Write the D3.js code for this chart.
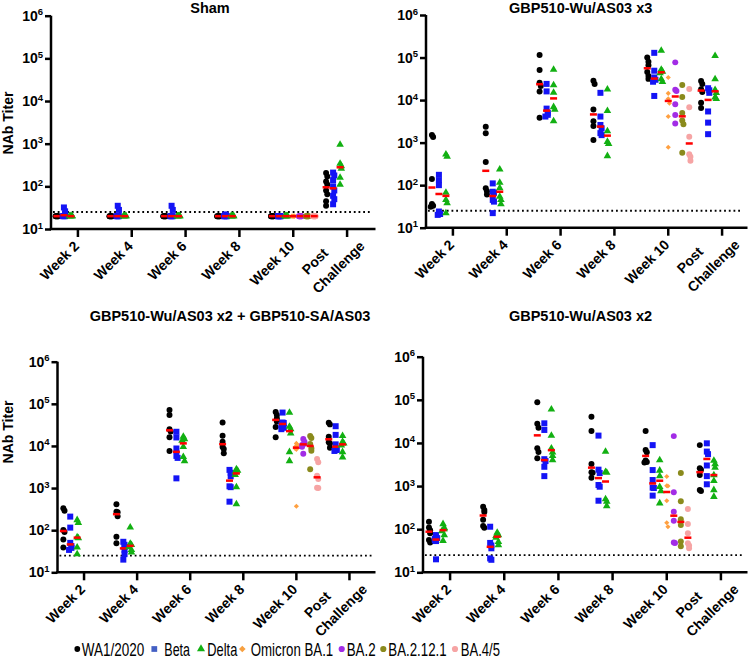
<!DOCTYPE html>
<html><head><meta charset="utf-8">
<script src="https://cdn.jsdelivr.net/npm/d3@7"></script>
<style>body{margin:0;background:#fff}svg{display:block}text{font-family:Arial,"Liberation Sans",sans-serif}</style>
</head><body><svg id="chart" width="748" height="664"></svg>
<script>
// ---------------- DATA ----------------
const timepoints = ["Week 2","Week 4","Week 6","Week 8","Week 10","Post Challenge"];
const seriesNames = ["WA1/2020","Beta","Delta","Omicron BA.1","BA.2","BA.2.12.1","BA.4/5"];
const panelTitles = ["Sham","GBP510-Wu/AS03 x3","GBP510-Wu/AS03 x2 + GBP510-SA/AS03","GBP510-Wu/AS03 x2"];
const yTickValues = [10,100,1000,10000,100000,1000000];
const yTickExponents = ["1","2","3","4","5","6"];
const limitOfDetection = 25;

// Sham (per timepoint: Week 2 ... Post Challenge)
const shamWA1 = [[20,20,20,20,20,20],[20,20,20,20,20,20],[20,20,20,20,20,20],[20,20,20,20,20,20],[20,20,20,20,20,20],[205,170,130,110,80,65,45,35]];
const shamBeta = [[32,26,22,20,20,20],[35,28,20,20,20,20],[35,28,20,20,20,20],[22,20,20,20,20,20],[20,20,20,20,20,20],[210,180,140,100,80,60,50,38]];
const shamDelta = [[20,20,20,20,20,20],[20,20,20,20,20,20],[20,20,20,20,20,20],[20,20,20,20,20,20],[20,20,20,20,20,20],[950,340,300,260,160,110]];
const shamBA1 = [20,20,20,20,20,20];   // Week 10 only
const shamBA2 = [20,20,20,20,20,20];
const shamBA2121 = [20,20,20,20,20,20];
const shamBA45 = [20,20,20,20,20,20];

// GBP510-Wu/AS03 x3
const x3WA1 = [[1520,1350,140,36,33,31],[2350,1660,350,85,72,60],[115000,51000,25700,21500,16000,3850],[28500,24000,6000,3200,2450,1150],[100000,80000,66000,46000,37000,31500],[28000,24000,18000,15500,8700,6500]];
const x3Beta = [[175,130,100,24,21,20],[110,70,66,45,41,22],[24000,16000,6300,5000,4500,4100],[14800,4100,2600,2170,1670,1500],[129000,49000,34000,30000,27000,12500],[19000,17000,14800,5400,2950,1580]];
const x3Delta = [[530,470,67,45,38,22],[235,115,86,54,45,36],[52000,22600,15000,6900,6000,3200],[17800,5600,1870,1050,935,485],[145000,52000,47000,43000,31000,27000],[110000,31000,17400,14800,11600,10700]];
const x3BA1 = [34000,14400,10700,8400,4100,780];
const x3BA2 = [77000,17400,16300,8000,4450,2800];
const x3BA2121 = [22600,11800,5000,3300,2700,575];
const x3BA45 = [18200,6750,1380,530,465,375];

// GBP510-Wu/AS03 x2 + GBP510-SA/AS03
const saWA1 = [[330,290,101,90,60,39],[415,275,265,215,70,49],[71000,54000,25000,22000,16000,7600],[36000,17400,12500,9500,8500,6700],[64000,54000,45000,38000,28000,16000],[35500,32500,16600,12200,11500,9100]];
const saBeta = [[210,115,50,42,38,34],[53,45,40,34,27,20],[21700,15900,8700,5800,5200,1700],[2700,2300,1900,1100,1050,475],[62000,36000,35000,31500,27000,25000],[29400,18300,10900,8300,8000,7600]];
const saDelta = [[175,150,68,65,39,27],[117,48,45,40,34,30],[16600,14600,13500,9500,5500,4400],[2800,2600,2400,2050,1050,415],[62000,28700,25000,20000,7200,4400],[17400,12600,11500,10300,7200,5400]];
const saBA1 = [11500,10500,9500,8700,8300,370];
const saBA2 = [14600,12600,11300,10500,9600,6500];
const saBA2121 = [17200,15500,11200,8800,7700,2800];
const saBA45 = [4900,4100,1960,1640,1020,1000];

// GBP510-Wu/AS03 x2
const x2WA1 = [[148,110,95,80,56,49],[330,280,250,165,118,108],[88000,28000,22500,7500,6200,4400],[40600,19000,3250,2100,2040,1560],[19000,6900,6100,3900,3600,3500],[8900,2600,2400,1800,810,770]];
const x2Beta = [[73,62,60,55,53,20],[114,48,42,36,21,19.5],[28500,20000,4200,3800,2800,1700],[14800,2400,2000,1060,966,457],[8900,2350,1380,920,900,600],[9800,6300,5500,3000,1700,1100]];
const x2Delta = [[132,108,100,90,73,54],[83,73,70,64,51,43],[60000,14800,7500,6100,5000,4000],[6300,2140,2050,500,435,345],[4000,2300,1700,960,770,400],[3900,3250,2700,1800,1320,810,565]];
const x2BA1 = [1660,1020,1000,457,141,114];
const x2BA2 = [14400,716,254,157,49,48];
const x2BA2121 = [2000,445,170,125,52,40];
const x2BA45 = [293,132,80,47,42,36];

const panelSeries = [
  [shamWA1, shamBeta, shamDelta, shamBA1, shamBA2, shamBA2121, shamBA45],
  [x3WA1, x3Beta, x3Delta, x3BA1, x3BA2, x3BA2121, x3BA45],
  [saWA1, saBeta, saDelta, saBA1, saBA2, saBA2121, saBA45],
  [x2WA1, x2Beta, x2Delta, x2BA1, x2BA2, x2BA2121, x2BA45]
];

// ---------------- STYLE / LAYOUT ----------------
const colors = ["#000000","#1414f5","#12b012","#ffa040","#a22ce6","#8a8a1c","#f6a4a4"];
const legendColors = ["#000000","#4460c4","#12b012","#f7a040","#a22ce6","#8a8a1c","#f6a4a4"];
const symbols = [d3.symbolCircle,d3.symbolSquare,d3.symbolTriangle,d3.symbolSquare,d3.symbolCircle,d3.symbolCircle,d3.symbolCircle];
const symSizes = [28,36,25,13,28,28,28];
const symRotate = [0,0,0,45,0,0,0];

const layout = [
  {x0:51, x1:374, xEnd:375.5, yTop:15.7, yBot:229, tx:210, ty:12.5, yt:{x:12.5,y:123}, dotEnd:372.5},
  {x0:426, x1:749, xEnd:747.5, yTop:15, yBot:227.7, tx:580.7, ty:12.5, yt:null, dotEnd:742},
  {x0:57.5, x1:376, xEnd:375.5, yTop:361.7, yBot:572.3, tx:230, ty:321, yt:{x:12.5,y:432}, dotEnd:372.5},
  {x0:423, x1:748, xEnd:747.5, yTop:356.7, yBot:572.3, tx:580.5, ty:321, yt:null, dotEnd:742}
];

const svg = d3.select("#chart");

layout.forEach((L, p) => {
  const g = svg.append("g");
  const x = d3.scaleBand().domain(timepoints).range([L.x0, L.x1]);
  const y = d3.scaleLog().domain([10, 1e6]).range([L.yBot, L.yTop]);
  const bw = x.bandwidth();
  const slot = d3.scalePoint().domain(seriesNames).range([-bw*0.39, bw*0.39]);

  g.append("text").attr("x", L.tx).attr("y", L.ty).attr("text-anchor","middle")
    .attr("font-size", 14.5).attr("font-weight","bold").text(panelTitles[p]);

  g.append("line").attr("x1", L.x0 + 2).attr("x2", L.dotEnd)
    .attr("y1", y(limitOfDetection)).attr("y2", y(limitOfDetection))
    .attr("stroke","#000").attr("stroke-width",1.8).attr("stroke-dasharray","1.8,2.9");

  panelSeries[p].forEach((ser, s) => {
    timepoints.forEach((tp, t) => {
      let vals;
      if (s < 3) vals = ser[t];
      else vals = (t === 4) ? ser : null;
      if (!vals) return;
      const cx = x(tp) + bw/2 + slot(seriesNames[s]);
      const sorted = vals.slice().sort((a,b)=>b-a);
      const placed = [];
      const offs = [0, 1.2, -1.2];
      const pts = sorted.map(v => {
        const py = y(v);
        const k = placed.filter(q => Math.abs(q - py) < 4.5).length;
        placed.push(py);
        return {v, px: cx + offs[k % 3], py};
      });
      const sym = d3.symbol().type(symbols[s]).size(symSizes[s]);
      g.append("g").selectAll("path").data(pts).join("path")
        .attr("d", sym)
        .attr("transform", d => `translate(${d.px},${d.py}) rotate(${symRotate[s]})`)
        .attr("fill", colors[s]);
      const med = d3.median(vals);
      g.append("rect").attr("x", cx - 3.5).attr("y", y(med) - 1.25)
        .attr("width", 7).attr("height", 2.5).attr("fill", "#ff0000");
    });
  });

  const yAxis = d3.axisLeft(y).tickValues(yTickValues).tickSize(6).tickSizeOuter(0).tickFormat("");
  const ya = g.append("g").attr("transform", `translate(${L.x0},0)`).call(yAxis);
  const xAxis = d3.axisBottom(x).tickSize(8).tickSizeOuter(0).tickFormat("");
  const xa = g.append("g").attr("transform", `translate(0,${L.yBot})`).call(xAxis);
  xa.select(".domain").attr("d", `M${L.x0 - 1.25},0H${L.xEnd}`);
  ya.select(".domain").attr("d", `M0,${L.yBot}V${L.yTop}`);
  [ya, xa].forEach(a => {
    a.selectAll(".domain, .tick line").attr("stroke","#000").attr("stroke-width",2.5);
  });

  yTickValues.forEach((v, i) => {
    const tx = g.append("text").attr("x", L.x0 - 8).attr("y", y(v) + 5)
      .attr("text-anchor","end").attr("font-size",14).attr("font-weight","bold");
    tx.append("tspan").text("10");
    tx.append("tspan").attr("dy",-5.5).attr("font-size",9.5).text(yTickExponents[i]);
  });

  timepoints.forEach(tp => {
    const cx = x(tp) + bw/2;
    if (tp === "Post Challenge") {
      g.append("text").attr("transform", `translate(${cx - 18},${L.yBot + 25}) rotate(-45)`)
        .attr("text-anchor","end").attr("font-size",14).attr("font-weight","bold").text("Post");
      g.append("text").attr("transform", `translate(${cx + 18.5},${L.yBot + 18}) rotate(-45)`)
        .attr("text-anchor","end").attr("font-size",14).attr("font-weight","bold").text("Challenge");
    } else {
      g.append("text").attr("transform", `translate(${cx + 2},${L.yBot + 18}) rotate(-45)`)
        .attr("text-anchor","end").attr("font-size",14).attr("font-weight","bold").text(tp);
    }
  });

  if (L.yt) {
    g.append("text").attr("transform", `translate(${L.yt.x},${L.yt.y}) rotate(-90)`)
      .attr("text-anchor","middle").attr("font-size",14).attr("font-weight","bold").text("NAb Titer");
  }
});

// legend
const legMarkerX = [77.3,154.3,201,242.3,341.7,383.3,455];
const legTextX = [81.7,164.3,207.3,250.7,346.7,388.3,460.7];
const legTextW = [62.6,25.7,30,82.6,29,58.4,39.3];
const legSizes = [26,33,28,22,30,30,30];
const lg = svg.append("g");
seriesNames.forEach((name, s) => {
  lg.append("path").attr("d", d3.symbol().type(symbols[s]).size(legSizes[s]))
    .attr("transform", `translate(${legMarkerX[s]},649) rotate(${symRotate[s]})`)
    .attr("fill", legendColors[s]);
  const t = lg.append("text").attr("x", 0).attr("y", 0).attr("font-size", 18).text(name);
  const w = t.node().getComputedTextLength();
  t.attr("transform", `translate(${legTextX[s]},655.5) scale(${legTextW[s] / w},1)`);
});
</script></body></html>
